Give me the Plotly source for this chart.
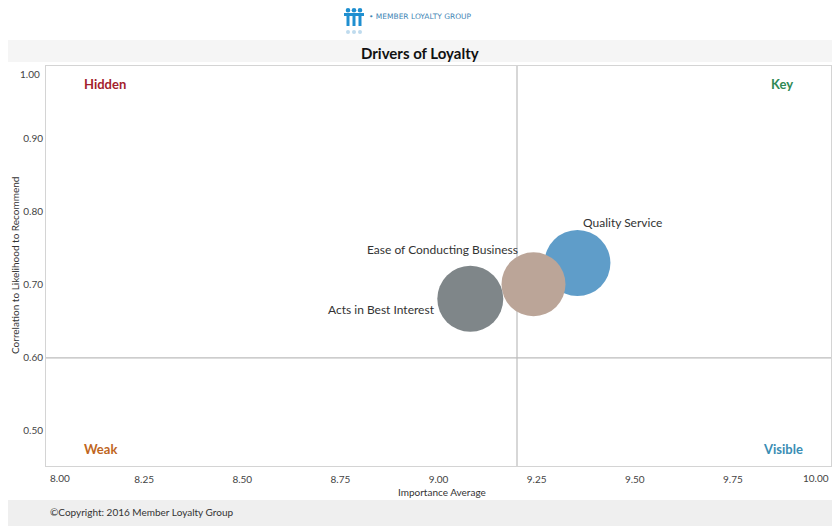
import plotly.graph_objects as go

drivers = ["Quality Service", "Ease of Conducting Business", "Acts in Best Interest"]
importance = [9.354, 9.242, 9.081]
correlation = [0.730, 0.701, 0.681]
bubble_size = [66, 64, 66]
colors = ["#5f9dc9", "#bba598", "#7f8689"]

x_ticks = [8.00, 8.25, 8.50, 8.75, 9.00, 9.25, 9.50, 9.75, 10.00]
y_ticks = [0.50, 0.60, 0.70, 0.80, 0.90, 1.00]
x_ref = 9.2
y_ref = 0.60

quadrants = ["Hidden", "Key", "Weak", "Visible"]
quad_x = [8.0, 10.0, 8.0, 10.0]
quad_y = [1.0, 1.0, 0.452, 0.452]
quad_colors = ["#a3212b", "#2f8a55", "#c0661e", "#3a8db4"]

FONT = "Lato"
OFF = 8  # page body margin
W, H = 840 - OFF, 526 - OFF
L, T = 46 - OFF, 66 - OFF
R = W - (831 - OFF)
B = H - (466 - OFF)
PW, PH = W - L - R, H - T - B


def px(x):
    return (x - OFF - L) / PW


def py(y):
    return (H - B - (y - OFF)) / PH


fig = go.Figure()

# top and bottom background bands
fig.add_shape(type="rect", xref="paper", yref="paper", x0=px(0), x1=px(850), y0=py(530), y1=py(500),
              fillcolor="#efefef", line=dict(width=0), layer="below")
fig.add_shape(type="rect", xref="paper", yref="paper", x0=px(0), x1=px(850), y0=py(62), y1=py(40),
              fillcolor="#f5f5f5", line=dict(width=0), layer="below")
fig.add_shape(type="rect", xref="paper", yref="paper", x0=px(335), x1=px(500), y0=py(40), y1=py(0),
              fillcolor="white", line=dict(width=0), layer="below")

# logo icon: three little figures
for cx in [348, 354, 360]:
    fig.add_shape(type="circle", xref="paper", yref="paper", x0=px(cx - 2.3), x1=px(cx + 2.3),
                  y0=py(12.5), y1=py(8), fillcolor="#1f8fd0", line=dict(width=0))
    fig.add_shape(type="rect", xref="paper", yref="paper", x0=px(cx - 1.5), x1=px(cx + 1.5),
                  y0=py(26), y1=py(14), fillcolor="#1f8fd0", line=dict(width=0))
fig.add_shape(type="rect", xref="paper", yref="paper", x0=px(344), x1=px(364),
              y0=py(16), y1=py(13), fillcolor="#1f8fd0", line=dict(width=0))
for cx in [348, 354, 360]:
    fig.add_shape(type="circle", xref="paper", yref="paper", x0=px(cx - 2), x1=px(cx + 2),
                  y0=py(34), y1=py(30), fillcolor="#bfdbee", line=dict(width=0))

fig.add_annotation(x=px(367), y=py(17), xref="paper", yref="paper", xanchor="left", yanchor="middle",
                   text="• MEMBER LOYALTY GROUP", showarrow=False,
                   font=dict(family="DejaVu Sans", size=7.5, color="#3f86b5"))

# reference lines
fig.add_shape(type="line", x0=x_ref, x1=x_ref, y0=0, y1=1, xref="x", yref="paper",
              line=dict(color="#bcbcbc", width=1.2), layer="below")
fig.add_shape(type="line", x0=0, x1=1, y0=y_ref, y1=y_ref, xref="paper", yref="y",
              line=dict(color="#bcbcbc", width=1.2), layer="below")

for i, name in enumerate(drivers):
    fig.add_trace(go.Scatter(
        x=[importance[i]], y=[correlation[i]], mode="markers",
        marker=dict(size=[bubble_size[i]], sizemode="diameter", sizeref=1,
                    color=colors[i], line=dict(width=0), opacity=1),
        name=name, showlegend=False, hoverinfo="text", text=[name],
    ))

# bubble labels
label_specs = [
    dict(xanchor="left", xshift=4, yshift=41),
    dict(xanchor="right", xshift=-13, yshift=35),
    dict(xanchor="right", xshift=-33, yshift=-11),
]
for i, name in enumerate(drivers):
    fig.add_annotation(x=importance[i], y=correlation[i], text=name, showarrow=False,
                       yanchor="middle", font=dict(family=FONT, size=12, color="#333333"),
                       **label_specs[i])

# quadrant labels
qspec = [
    dict(xanchor="left", yanchor="top", xshift=36, yshift=-8),
    dict(xanchor="right", yanchor="top", xshift=-36, yshift=-8),
    dict(xanchor="left", yanchor="bottom", xshift=36, yshift=7),
    dict(xanchor="right", yanchor="bottom", xshift=-26, yshift=7),
]
for i, q in enumerate(quadrants):
    fig.add_annotation(x=quad_x[i], y=quad_y[i], text="<b>%s</b>" % q, showarrow=False,
                       font=dict(family=FONT, size=13, color=quad_colors[i]), **qspec[i])

# title
fig.add_annotation(x=px(420), y=py(53), xref="paper", yref="paper", text="<b>Drivers of Loyalty</b>",
                   showarrow=False, xanchor="center", yanchor="middle",
                   font=dict(family=FONT, size=15, color="#111111"))

# axis titles
fig.add_annotation(x=px(15), y=py(266), xref="paper", yref="paper", textangle=-90,
                   xanchor="center", yanchor="middle",
                   text="Correlation to Likelihood to Recommend", showarrow=False,
                   font=dict(family=FONT, size=10, color="#333333"))
fig.add_annotation(x=px(442), y=py(492), xref="paper", yref="paper",
                   xanchor="center", yanchor="middle",
                   text="Importance Average", showarrow=False,
                   font=dict(family=FONT, size=10, color="#333333"))

# edge tick labels placed inside the axis span
tick_font = dict(family=FONT, size=10, color="#444444")
fig.add_annotation(x=x_ticks[0], y=0, xref="x", yref="paper", yanchor="top", xanchor="left",
                   yshift=-4, xshift=2, text="%.2f" % x_ticks[0], showarrow=False, font=tick_font)
fig.add_annotation(x=x_ticks[-1], y=0, xref="x", yref="paper", yanchor="top", xanchor="right",
                   yshift=-4, xshift=0, text="%.2f" % x_ticks[-1], showarrow=False, font=tick_font)
fig.add_annotation(x=0, y=y_ticks[-1], xref="paper", yref="y", yanchor="top", xanchor="right",
                   yshift=0, xshift=-4, text="%.2f" % y_ticks[-1], showarrow=False, font=tick_font)

fig.add_annotation(x=px(48), y=py(512), xref="paper", yref="paper", xanchor="left", yanchor="middle",
                   text="©Copyright: 2016 Member Loyalty Group",
                   showarrow=False, font=dict(family=FONT, size=10, color="#333333"))

fig.update_layout(
    width=W, height=H,
    margin=dict(l=L, r=R, t=T, b=B, autoexpand=False),
    paper_bgcolor="white", plot_bgcolor="white",
    font=dict(family=FONT, size=10, color="#444444"),
    xaxis=dict(range=[8.0, 10.0], tickvals=x_ticks[1:-1], tickformat=".2f", automargin=False,
               showgrid=False, zeroline=False, showline=True, linecolor="#d4d4d4",
               mirror=True, ticks="outside", ticklen=4, tickcolor="rgba(0,0,0,0)", tickfont=tick_font),
    yaxis=dict(range=[0.452, 1.0], tickvals=y_ticks[:-1], tickformat=".2f", automargin=False,
               showgrid=False, zeroline=False, showline=True, linecolor="#d4d4d4",
               mirror=True, ticks="", tickfont=tick_font),
)

fig.write_html("out.html")
